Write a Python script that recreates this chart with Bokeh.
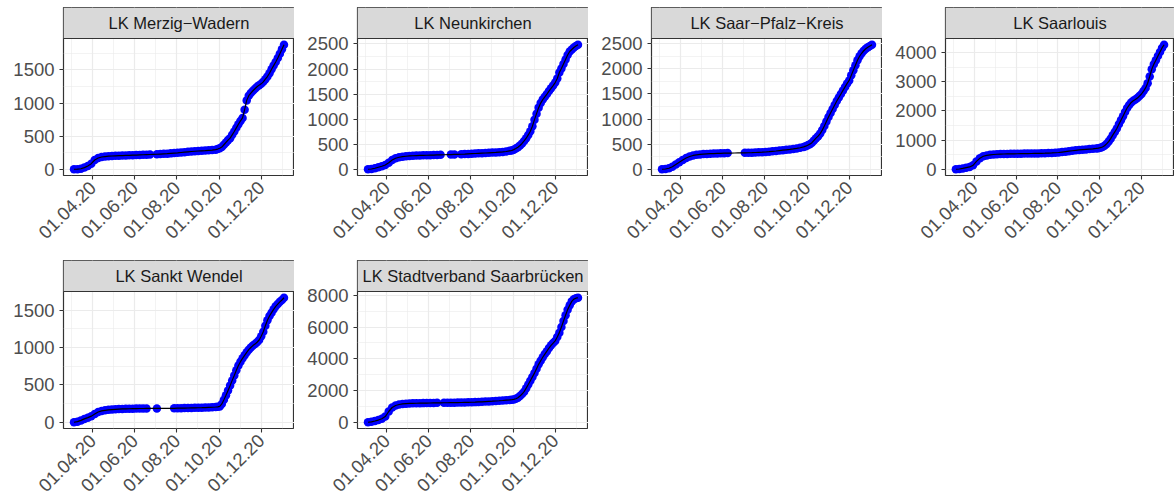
import numpy as np
import pandas as pd
from bokeh.plotting import figure
from bokeh.layouts import column, row
from bokeh.models import (Range1d, FixedTicker, DatetimeTickFormatter,
                          ColumnDataSource, Span)
from bokeh.core.properties import value
from bokeh.embed import file_html
from bokeh.resources import INLINE

# ---------------- data ----------------
# reporting dates: every 5 days until late September, every 3 days afterwards
dates = pd.DatetimeIndex(list(pd.date_range("2020-03-05", "2020-09-26", freq="5D")) +
                         list(pd.date_range("2020-09-29", "2021-01-03", freq="3D")))

districts = ["LK Merzig\u2212Wadern", "LK Neunkirchen", "LK Saar\u2212Pfalz\u2212Kreis",
             "LK Saarlouis", "LK Sankt Wendel", "LK Stadtverband Saarbr\u00fccken"]

merzig = [0, 2, 8, 25, 50, 85, 140, 170, 185, 192,
          197, 200, 203, 205, 207, 209, 211, 213, 215, 217,
          219, 221, 223, 225, 227, 230, 233, 236, 240, 244,
          248, 253, 258, 263, 268, 272, 276, 279, 282, 286,
          290, 296,
          305, 318, 335, 370, 405, 440, 470, 520, 570, 625,
          680, 730, 775, 900, 1040, 1110, 1150, 1185, 1215, 1245,
          1270, 1290, 1320, 1360, 1400, 1450, 1510, 1565, 1620, 1680,
          1745, 1810, 1880]
neunkirchen = [0, 5, 20, 40, 60, 85, 130, 185, 220, 240,
               252, 260, 266, 270, 273, 276, 278, 280, 282, 284,
               286, 288, 290, 292, 294, 296, 298, 300, 303, 307,
               311, 315, 319, 322, 325, 329, 333, 337, 342, 347,
               355, 368,
               375, 392, 415, 440, 475, 515, 565, 620, 685, 760,
               860, 990, 1110, 1230, 1320, 1390, 1445, 1500, 1560, 1615,
               1670, 1730, 1810, 1930, 2010, 2100, 2190, 2280, 2350, 2390,
               2430, 2460, 2485]
saarpfalz = [0, 5, 20, 50, 95, 140, 185, 225, 255, 275,
             288, 296, 302, 306, 310, 313, 316, 318, 320, 322,
             323, 324, 325, 326, 327, 329, 331, 334, 337, 340,
             344, 350, 357, 364, 372, 380, 388, 396, 405, 415,
             428, 445,
             460, 480, 500, 530, 575, 620, 660, 710, 780, 860,
             950, 1040, 1120, 1200, 1280, 1360, 1430, 1500, 1570, 1640,
             1710, 1770, 1870, 1970, 2070, 2170, 2250, 2310, 2360, 2400,
             2430, 2455, 2480]
saarlouis = [0, 10, 30, 55, 80, 135, 270, 380, 445, 475,
             495, 507, 515, 520, 524, 527, 529, 531, 533, 535,
             537, 539, 541, 543, 545, 548, 551, 555, 560, 567,
             575, 590, 605, 620, 635, 650, 662, 672, 682, 692,
             702, 715,
             725, 740, 765, 805, 870, 950, 1050, 1170, 1280, 1400,
             1540, 1680, 1820, 1960, 2100, 2200, 2290, 2350, 2390, 2440,
             2510, 2580, 2680, 2790, 2950, 3180, 3430, 3600, 3740, 3880,
             4020, 4160, 4270]
sanktwendel = [0, 8, 25, 45, 62, 82, 110, 138, 152, 160,
               166, 170, 173, 176, 178, 180, 181, 182, 183, 184,
               184, 185, 185, 185, 185, 185, 185, 186, 186, 187,
               188, 189, 190, 191, 192, 193, 194, 195, 197, 199,
               201, 204,
               206, 212, 245, 300, 360, 425, 490, 560, 625, 695,
               760, 810, 855, 895, 935, 970, 1000, 1025, 1045, 1070,
               1100, 1150, 1210, 1290, 1365, 1420, 1465, 1510, 1550, 1580,
               1610, 1635, 1665]
saarbruecken = [0, 30, 80, 140, 220, 360, 680, 930, 1060, 1120,
                1155, 1175, 1185, 1192, 1198, 1203, 1207, 1212, 1216, 1220,
                1223, 1226, 1229, 1232, 1235, 1238, 1241, 1245, 1250, 1255,
                1262, 1270, 1280, 1290, 1302, 1315, 1328, 1342, 1356, 1372,
                1390, 1408,
                1420, 1440, 1480, 1550, 1650, 1780, 1930, 2150, 2380, 2620,
                2860, 3100, 3380, 3650, 3880, 4100, 4300, 4480, 4680, 4850,
                4990, 5130, 5380, 5650, 6000, 6380, 6750, 7100, 7380, 7620,
                7760, 7820, 7850]

# periods without reported points (the line continues through them)
gaps_merzig = [("2020-06-26", "2020-07-01")]
gaps_neunkirchen = [("2020-06-21", "2020-07-02"), ("2020-07-11", "2020-07-16")]
gaps_saarpfalz = [("2020-06-11", "2020-07-01")]
gaps_saarlouis = []
gaps_sanktwendel = [("2020-06-21", "2020-07-01"), ("2020-07-05", "2020-07-25")]
gaps_saarbruecken = [("2020-06-16", "2020-06-20")]

y_intervals = [500, 500, 500, 1000, 500, 2000]

tick_dates = ["2020-04-01", "2020-06-01", "2020-08-01", "2020-10-01", "2020-12-01"]

series = [merzig, neunkirchen, saarpfalz, saarlouis, sanktwendel, saarbruecken]
gaps = [gaps_merzig, gaps_neunkirchen, gaps_saarpfalz, gaps_saarlouis,
        gaps_sanktwendel, gaps_saarbruecken]
for s in series:
    assert len(s) == len(dates), (len(s), len(dates))

# ---------------- styling ----------------
FONT = "Liberation Sans"
FH = 137          # panel height
SH = 31           # strip height
LB = 63           # left border (y axis)
FWS = [231, 231, 231, 229]


def ms(d):
    return pd.Timestamp(d).value / 1e6


x0, x1 = ms(dates.min()), ms(dates.max())
xpad = 0.05 * (x1 - x0)
xr = (x0 - xpad, x1 + xpad)

major_x = [ms(d) for d in tick_dates]
step = major_x[1] - major_x[0]
minor_x = [major_x[0] - step / 2] + [(a + b) / 2 for a, b in zip(major_x[:-1], major_x[1:])] \
          + [major_x[-1] + step / 2]

fmt = "%d.%m.%y"
date_fmt = DatetimeTickFormatter(days=fmt, months=fmt, years=fmt, hours=fmt,
                                 hourmin=fmt, minutes=fmt, minsec=fmt, seconds=fmt,
                                 milliseconds=fmt, microseconds=fmt)


def make_panel(i, col, last_row):
    name = districts[i]
    vals = np.array(series[i], dtype=float)
    fw = FWS[col]

    ymin, ymax = vals.min(), vals.max()
    ypad = 0.05 * (ymax - ymin)
    lo, hi = ymin - ypad, ymax + ypad
    top = hi + (hi - lo) * SH / FH          # strip sits above the panel

    p = figure(frame_width=fw, frame_height=FH + SH, x_axis_type="datetime",
               x_range=Range1d(*xr), y_range=Range1d(lo, top),
               toolbar_location=None, output_backend="svg",
               min_border_left=LB, min_border_right=0,
               min_border_top=(0 if last_row else 7),
               min_border_bottom=(0 if last_row else 85))
    p.background_fill_color = "white"
    p.border_fill_color = "white"
    p.outline_line_color = "#333333"
    p.outline_line_width = 1.2

    iv = y_intervals[i]
    yt = [k * iv for k in range(0, int(hi // iv) + 1)]
    ym = [k * iv / 2 for k in range(-3, int(hi // (iv / 2)) + 2, 2) if lo <= k * iv / 2 <= hi]

    p.xaxis.ticker = FixedTicker(ticks=major_x, minor_ticks=minor_x)
    p.xaxis.formatter = date_fmt
    p.yaxis.ticker = FixedTicker(ticks=yt, minor_ticks=ym)
    p.xaxis.major_label_orientation = np.pi / 4
    for ax in (p.xaxis[0], p.yaxis[0]):
        ax.axis_line_color = None
        ax.major_tick_line_color = "#333333"
        ax.major_tick_line_width = 1.1
        ax.major_tick_in = 0
        ax.major_tick_out = 4
        ax.minor_tick_line_color = None
        ax.major_label_text_font = FONT
        ax.major_label_text_font_size = "18.5px"
        ax.major_label_text_color = "#4D4D4D"
    p.yaxis.major_label_standoff = 5
    p.xaxis.major_label_standoff = 5

    for g in (p.xgrid[0], p.ygrid[0]):
        g.grid_line_color = "#EBEBEB"
        g.grid_line_width = 1.2
        g.minor_grid_line_color = "#EBEBEB"
        g.minor_grid_line_width = 0.6

    # facet strip
    p.quad(left=[xr[0]], right=[xr[1]], bottom=[hi], top=[top],
           fill_color="#D9D9D9", line_color=None)
    p.add_layout(Span(location=hi, dimension="width", line_color="#333333",
                      line_width=1.2))
    p.text(x=[(xr[0] + xr[1]) / 2], y=[(hi + top) / 2], text=[name],
           text_align="center", text_baseline="middle",
           text_font=value(FONT), text_font_size="16.5px", text_color="#1A1A1A")

    keep = np.ones(len(dates), dtype=bool)
    for a, b in gaps[i]:
        keep &= ~((dates >= pd.Timestamp(a)) & (dates <= pd.Timestamp(b)))

    dots = ColumnDataSource(dict(x=dates[keep], y=vals[keep]))
    line = ColumnDataSource(dict(x=dates, y=vals))
    p.scatter("x", "y", source=dots, size=8.5, fill_color="#0000FF", line_color=None)
    p.line("x", "y", source=line, line_color="black", line_width=1.2)
    return p


row1 = row([make_panel(i, i, False) for i in range(4)], spacing=0)
row2 = row([make_panel(4, 0, True), make_panel(5, 1, True)], spacing=0)
layout = column(row1, row2, spacing=0)

open("out.html", "w").write(file_html(layout, INLINE))
